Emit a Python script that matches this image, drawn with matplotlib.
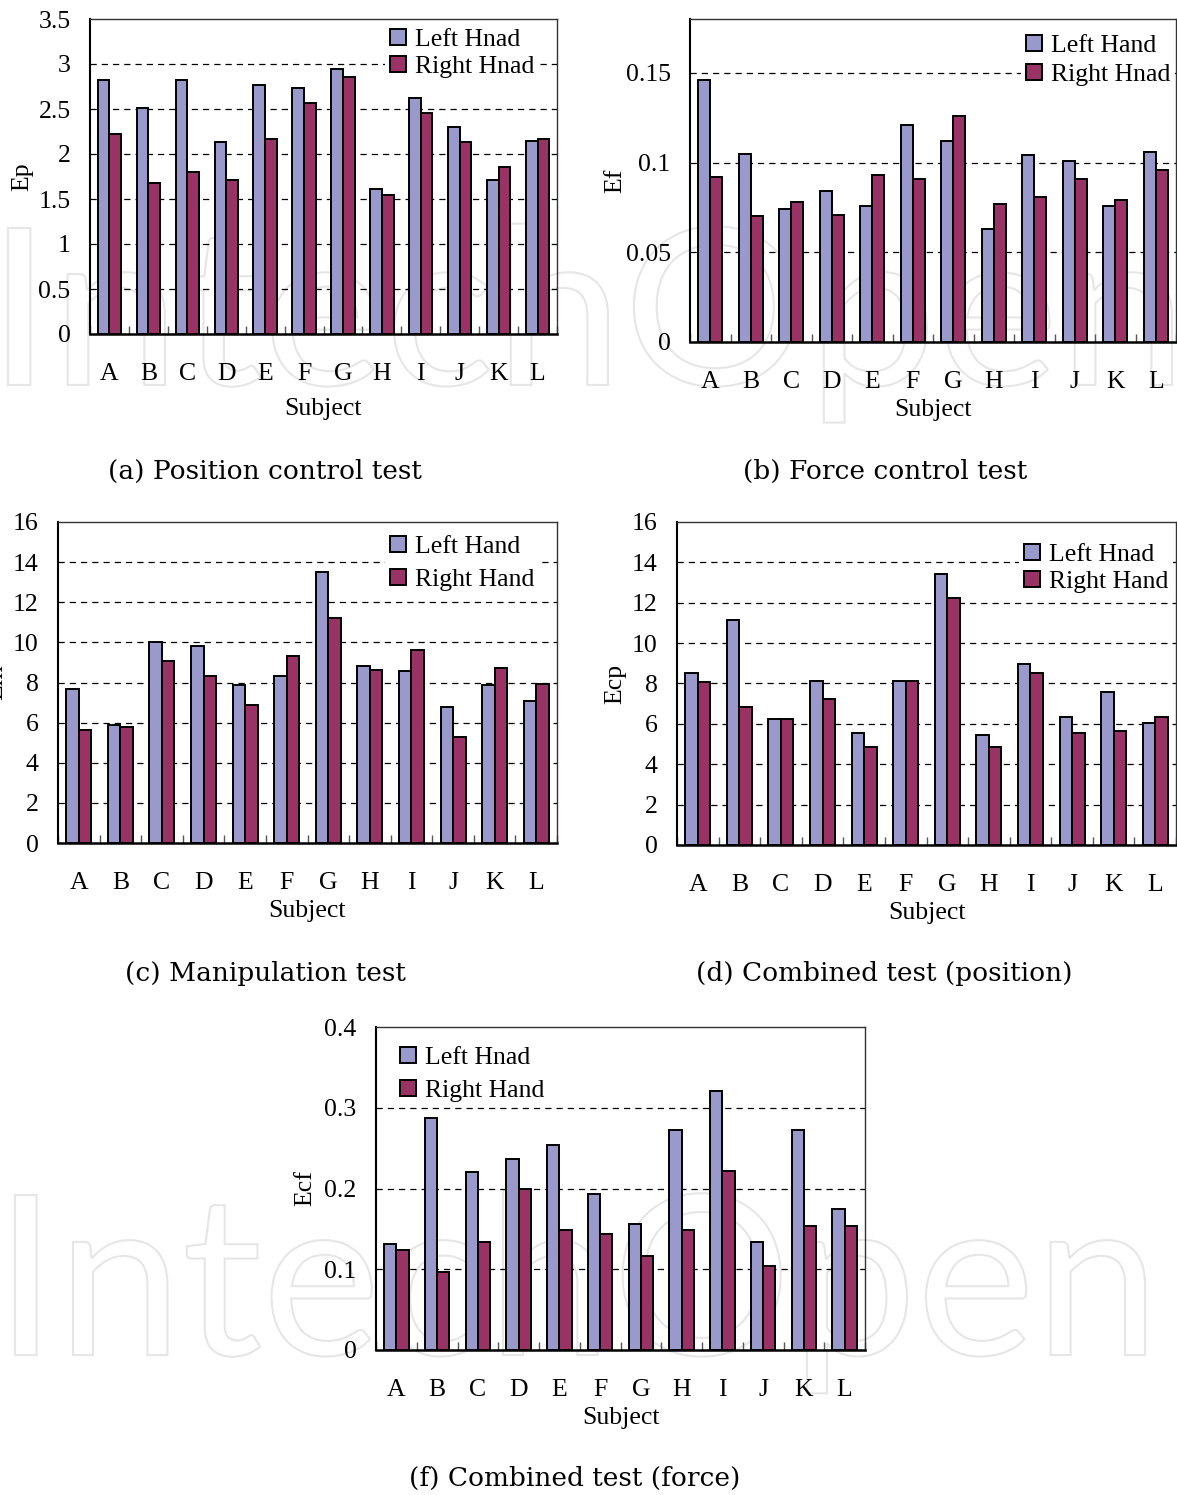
import numpy as np
import matplotlib
matplotlib.use("Agg")
import matplotlib.pyplot as plt
from matplotlib.patches import Patch, PathPatch
from matplotlib.textpath import TextPath
from matplotlib.font_manager import FontProperties
from matplotlib.path import Path
from matplotlib.transforms import IdentityTransform

plt.rcParams["font.family"] = ["Liberation Serif", "DejaVu Serif"]

subjects = ["A", "B", "C", "D", "E", "F", "G", "H", "I", "J", "K", "L"]

# (a) Position control test
ep_left = [2.82, 2.51, 2.82, 2.13, 2.77, 2.73, 2.95, 1.61, 2.62, 2.30, 1.71, 2.15]
ep_right = [2.22, 1.68, 1.80, 1.71, 2.17, 2.57, 2.86, 1.55, 2.46, 2.13, 1.86, 2.17]

# (b) Force control test
ef_left = [0.146, 0.105, 0.074, 0.084, 0.076, 0.121, 0.112, 0.063, 0.104, 0.101, 0.076, 0.106]
ef_right = [0.092, 0.070, 0.078, 0.071, 0.093, 0.091, 0.126, 0.077, 0.081, 0.091, 0.079, 0.096]

# (c) Manipulation test
em_left = [7.66, 5.86, 10.03, 9.83, 7.86, 8.34, 13.49, 8.84, 8.55, 6.76, 7.86, 7.06]
em_right = [5.65, 5.76, 9.05, 8.34, 6.86, 9.34, 11.21, 8.64, 9.63, 5.28, 8.74, 7.94]

# (d) Combined test (position)
ecp_left = [8.50, 11.17, 6.22, 8.10, 5.53, 8.10, 13.42, 5.45, 8.99, 6.34, 7.59, 6.04]
ecp_right = [8.09, 6.83, 6.22, 7.21, 4.85, 8.10, 12.26, 4.85, 8.50, 5.53, 5.64, 6.34]

# (f) Combined test (force)
ecf_left = [0.131, 0.287, 0.220, 0.237, 0.254, 0.193, 0.156, 0.272, 0.321, 0.134, 0.272, 0.175]
ecf_right = [0.124, 0.097, 0.134, 0.200, 0.148, 0.144, 0.116, 0.148, 0.222, 0.104, 0.153, 0.153]

LEFT_COLOR = "#9999CC"
RIGHT_COLOR = "#993366"

W, H = 1177, 1495
fig = plt.figure(figsize=(W / 100, H / 100), dpi=100)
fig.patch.set_facecolor("white")

TICK_FS = 18.5
CAP_FS = 19


def watermark(text, x0, x1, baseline, cap):
    """Faint outlined publisher mark behind the panels, in pixel units."""
    fp = FontProperties(family="Lato")
    tp = TextPath((0, 0), text, size=100, prop=fp)
    cap_h = TextPath((0, 0), "I", size=100, prop=fp).get_extents().ymax
    ext = tp.get_extents()
    sx = (x1 - x0) / ext.width
    sy = cap / cap_h
    verts = tp.vertices.copy()
    verts[:, 0] = (verts[:, 0] - ext.xmin) * sx + x0
    verts[:, 1] = verts[:, 1] * sy + (H - baseline)
    patch = PathPatch(Path(verts, tp.codes), facecolor="none",
                      edgecolor="#e6e6e6", linewidth=1.5,
                      transform=IdentityTransform(), zorder=-5)
    fig.patches.append(patch)
    patch.set_figure(fig)


watermark("IntechOpen", 8, 1172, 385, 157)
watermark("IntechOpen", 15, 1145, 1355, 160)


def make_axes(x0, y0, x1, y1):
    return fig.add_axes([x0 / W, 1 - y1 / H, (x1 - x0) / W, (y1 - y0) / H])


def panel(box, left, right, ymax, yticks, yticklabels, ylabel, ylabel_x,
          legend_names, legend_xy, labelspacing, xlabelpad,
          caption, caption_xy):
    ax = make_axes(*box)
    ax.set_facecolor("none")
    ax.set_zorder(1)
    n = len(subjects)
    x = np.arange(n)
    bw = 0.30
    ax.bar(x - bw / 2, left, bw, color=LEFT_COLOR, edgecolor="black",
           linewidth=1.4, zorder=3)
    ax.bar(x + bw / 2, right, bw, color=RIGHT_COLOR, edgecolor="black",
           linewidth=1.4, zorder=3)
    ax.set_xlim(-0.5, n - 0.5)
    ax.set_ylim(0, ymax)

    ax.set_yticks(yticks)
    ax.set_yticklabels(yticklabels, fontsize=TICK_FS)
    ax.tick_params(axis="y", length=0, pad=14)
    for v in yticks[1:]:
        if v < ymax - 1e-9:
            ax.axhline(v, color="black", linestyle=(0, (5, 4)), linewidth=0.9,
                       zorder=1)

    # group separators along the category axis
    ax.set_xticks(np.arange(n + 1) - 0.5, minor=True)
    ax.tick_params(axis="x", which="minor", direction="in", length=6,
                   width=1.0, color="#555555")
    ax.set_xticks(x)
    ax.set_xticklabels(subjects, fontsize=TICK_FS)
    ax.tick_params(axis="x", which="major", length=0, pad=21)
    ax.set_xlabel("Subject", fontsize=TICK_FS, labelpad=xlabelpad)

    for sp in ax.spines.values():
        sp.set_linewidth(1.0)
        sp.set_color("#333333")
    ax.spines["bottom"].set_linewidth(1.8)
    ax.spines["bottom"].set_color("black")
    ax.spines["left"].set_linewidth(1.5)
    ax.spines["left"].set_color("black")

    fig.text(ylabel_x / W, 1 - (box[1] + box[3]) / 2 / H, ylabel,
             rotation=90, fontsize=TICK_FS, ha="center", va="center")

    handles = [Patch(facecolor=LEFT_COLOR, edgecolor="black", linewidth=1.4),
               Patch(facecolor=RIGHT_COLOR, edgecolor="black", linewidth=1.4)]
    leg = ax.legend(handles, legend_names, loc="upper left",
                    bbox_to_anchor=(legend_xy[0] / W, 1 - legend_xy[1] / H),
                    bbox_transform=fig.transFigure, fontsize=TICK_FS,
                    handlelength=0.6, handleheight=0.6, handletextpad=0.35,
                    labelspacing=labelspacing, borderpad=0.2,
                    borderaxespad=0, frameon=True, fancybox=False,
                    framealpha=1.0)
    leg.get_frame().set_facecolor("white")
    leg.get_frame().set_edgecolor("none")
    leg.set_zorder(5)

    fig.text(caption_xy[0] / W, 1 - caption_xy[1] / H, caption,
             fontsize=CAP_FS, family=["DejaVu Serif"], ha="center",
             va="center")
    return ax


panel((90, 19, 557, 334), ep_left, ep_right, 3.5,
      [0, 0.5, 1, 1.5, 2, 2.5, 3, 3.5],
      ["0", "0.5", "1", "1.5", "2", "2.5", "3", "3.5"],
      "Ep", 22, ["Left Hnad", "Right Hnad"], (385, 24), 0.18, 9,
      "(a) Position control test", (265, 471))

panel((690, 19, 1176, 342), ef_left, ef_right, 0.18,
      [0, 0.05, 0.1, 0.15], ["0", "0.05", "0.1", "0.15"],
      "Ef", 615, ["Left Hand", "Right Hnad"], (1021, 30), 0.26, 4,
      "(b) Force control test", (885, 471))

panel((58, 522, 557, 843), em_left, em_right, 16,
      [0, 2, 4, 6, 8, 10, 12, 14, 16],
      ["0", "2", "4", "6", "8", "10", "12", "14", "16"],
      "Em", -4, ["Left Hand", "Right Hand"], (385, 531), 0.41, 4,
      "(c) Manipulation test", (265, 973))

panel((677, 522, 1176, 845), ecp_left, ecp_right, 16,
      [0, 2, 4, 6, 8, 10, 12, 14, 16],
      ["0", "2", "4", "6", "8", "10", "12", "14", "16"],
      "Ecp", 615, ["Left Hnad", "Right Hand"], (1019, 539), 0.18, 4,
      "(d) Combined test (position)", (884, 973))

panel((376, 1027, 865, 1350), ecf_left, ecf_right, 0.4,
      [0, 0.1, 0.2, 0.3, 0.4], ["0", "0.1", "0.2", "0.3", "0.4"],
      "Ecf", 305, ["Left Hnad", "Right Hand"], (395, 1042), 0.41, 4,
      "(f) Combined test (force)", (575, 1478))

fig.savefig("out.png", dpi=100, facecolor="white")
